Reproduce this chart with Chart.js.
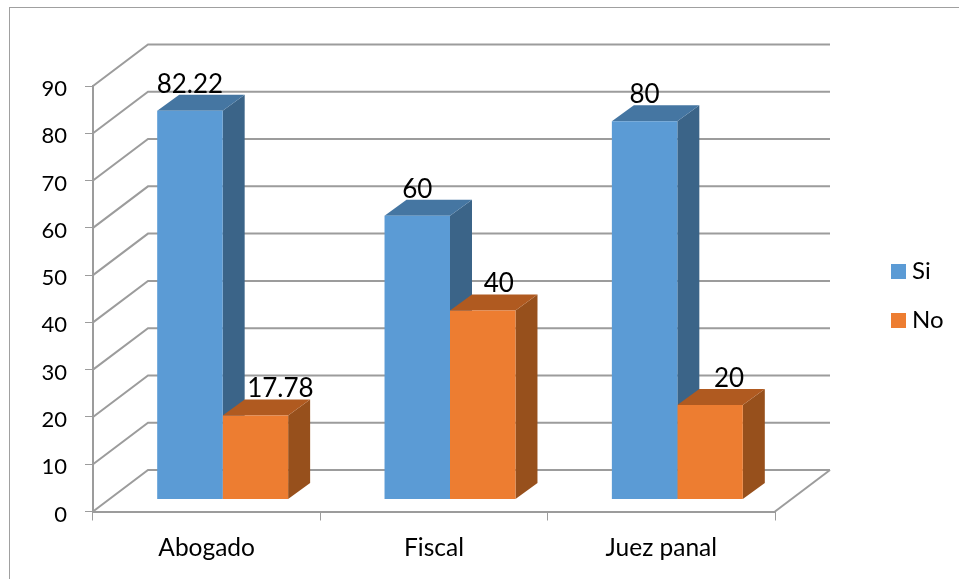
<!DOCTYPE html>
<html lang="es">
<head>
<meta charset="UTF-8">
<title>Si / No</title>
<style>
    html, body { margin: 0; background: #fff; }
    .frame { position: relative; width: 959px; height: 579px; overflow: hidden; }
    #grafico { display: block; }
    .frame:before { content: ""; position: absolute; left: 9px; top: 7px; width: 960px; height: 600px; border: 1px solid #a0a0a0; }
</style>
</head>
<body>
<div class="frame"><canvas id="grafico" width="959" height="579"></canvas></div>
<script src="https://cdn.jsdelivr.net/npm/chart.js"></script>
<script>
const categorias = ['Abogado', 'Fiscal', 'Juez panal'];
const si = [82.22, 60, 80];
const no = [17.78, 40, 20];
const ticksY = [0, 10, 20, 30, 40, 50, 60, 70, 80, 90];

// perspectiva del 3D (px)
const muro = { dx: 55, dy: -41.5 };
const frente = { dx: 16, dy: -12 };
const fondoBarra = { dx: 22, dy: -16 };
const sombras = [
    { lado: '#3b6488', arriba: '#4576a2' },
    { lado: '#97501c', arriba: '#b05a20' }
];
// ajuste de las etiquetas respecto al centro de la barra
const ajusteEtiqueta = [[0, 0, 0], [25, 16, 19]];
const fuente = "Lato, 'Open Sans', sans-serif";
const gris = '#9c9c9c';

function poligono(ctx, pts, color) {
    ctx.beginPath();
    pts.forEach((p, i) => i ? ctx.lineTo(p[0], p[1]) : ctx.moveTo(p[0], p[1]));
    ctx.closePath();
    ctx.fillStyle = color;
    ctx.fill();
}

const plano3d = {
    id: 'plano3d',
    beforeDatasetsDraw(chart) {
        const { ctx, scales: { x, y } } = chart;
        const izq = x.left, der = x.right;

        // paredes
        ctx.save();
        ctx.strokeStyle = gris;
        ctx.lineWidth = 2;
        ticksY.forEach(v => {
            const py = y.getPixelForValue(v);
            ctx.beginPath();
            ctx.moveTo(izq, py);
            ctx.lineTo(izq + muro.dx, py + muro.dy);
            ctx.lineTo(der + muro.dx, py + muro.dy);
            ctx.stroke();
        });
        const py0 = y.getPixelForValue(0);
        ctx.beginPath();
        ctx.moveTo(der, py0);
        ctx.lineTo(der + muro.dx, py0 + muro.dy);
        ctx.stroke();
        ctx.restore();

        // caras de lado y de arriba de cada barra
        chart.getSortedVisibleDatasetMetas().forEach((meta, s) => {
            meta.data.forEach(bar => {
                const l = bar.x - bar.width / 2 + frente.dx;
                const r = bar.x + bar.width / 2 + frente.dx;
                const t = bar.y + frente.dy;
                const b = bar.base + frente.dy;
                const dx = fondoBarra.dx, dy = fondoBarra.dy;
                poligono(ctx, [[r, t], [r + dx, t + dy], [r + dx, b + dy], [r, b]], sombras[s].lado);
                poligono(ctx, [[l, t], [l + dx, t + dy], [r + dx, t + dy], [r, t]], sombras[s].arriba);
            });
        });
    },
    beforeDatasetDraw(chart) {
        chart.ctx.save();
        chart.ctx.translate(frente.dx, frente.dy);
    },
    afterDatasetDraw(chart) {
        chart.ctx.restore();
    },
    afterDatasetsDraw(chart) {
        const ctx = chart.ctx;
        ctx.save();
        ctx.font = '26px ' + fuente;
        ctx.fillStyle = '#000';
        ctx.textAlign = 'center';
        ctx.textBaseline = 'alphabetic';
        chart.getSortedVisibleDatasetMetas().forEach((meta, s) => {
            meta.data.forEach((bar, i) => {
                const valor = chart.data.datasets[meta.index].data[i];
                ctx.fillText(String(valor), bar.x + frente.dx + ajusteEtiqueta[s][i], bar.y + frente.dy - 18);
            });
        });
        ctx.restore();
    },
    afterLayout(chart) {
        // la leyenda va suelta a la derecha del grafico
        const ley = chart.legend;
        ley.left = 897 - ley.options.labels.padding;
        ley.top = 271.5 - ley.options.labels.padding - 12;
        ley.right = 959;
        ley.bottom = 400;
        ley.width = ley.right - ley.left;
        ley.height = ley.bottom - ley.top;
    }
};

new Chart(document.getElementById('grafico'), {
    type: 'bar',
    data: {
        labels: categorias,
        datasets: [
            { label: 'Si', data: si, backgroundColor: '#5b9bd5' },
            { label: 'No', data: no, backgroundColor: '#ed7d31' }
        ]
    },
    options: {
        responsive: false,
        animation: false,
        layout: { padding: { top: 86, right: 124, left: 0, bottom: 0 } },
        datasets: { bar: { categoryPercentage: 0.576, barPercentage: 1, clip: false } },
        plugins: {
            tooltip: { enabled: false },
            legend: {
                position: 'right',
                align: 'start',
                maxWidth: 60,
                labels: {
                    usePointStyle: true,
                    pointStyle: 'rect',
                    boxWidth: 3,
                    boxHeight: 15,
                    padding: 25,
                    color: '#000',
                    font: { family: fuente, size: 24 }
                }
            }
        },
        scales: {
            x: {
                afterFit(s) { s.height = 67.5; },
                border: { color: gris, width: 2 },
                grid: { drawOnChartArea: false, tickLength: 9, color: gris, tickWidth: 1 },
                ticks: { color: '#000', padding: 13, font: { family: fuente, size: 24.5 }, maxRotation: 0 }
            },
            y: {
                min: 0,
                max: 90,
                afterFit(s) { s.width = 93; },
                afterBuildTicks(s) { s.ticks = ticksY.map(v => ({ value: v })); },
                border: { color: gris, width: 2 },
                grid: { drawOnChartArea: false, tickLength: 8, color: gris, tickWidth: 1 },
                ticks: { color: '#000', padding: 18, labelOffset: 3, font: { family: fuente, size: 22 } }
            }
        }
    },
    plugins: [plano3d]
});
</script>
</body>
</html>
